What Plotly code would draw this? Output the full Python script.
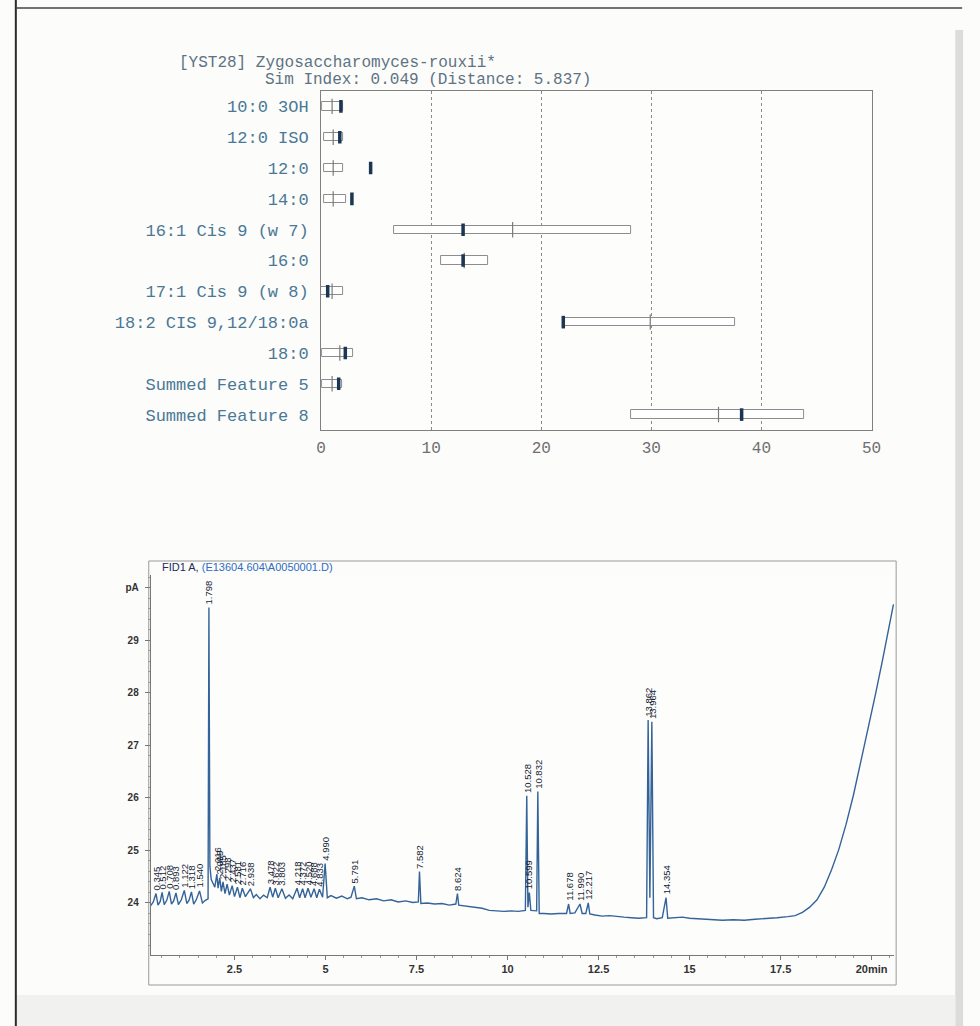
import plotly.graph_objects as go

W, H = 980, 1026

# ---------------- Top panel: FAME profile vs library entry ----------------
fame_names = ["10:0 3OH", "12:0 ISO", "12:0", "14:0", "16:1 Cis 9 (w 7)", "16:0",
              "17:1 Cis 9 (w 8)", "18:2 CIS 9,12/18:0a", "18:0",
              "Summed Feature 5", "Summed Feature 8"]
range_low = [0.1, 0.3, 0.3, 0.3, 6.6, 10.9, 0.0, 22.0, 0.1, 0.1, 28.2]
range_high = [2.0, 2.0, 2.0, 2.3, 28.2, 15.2, 2.0, 37.6, 2.9, 1.9, 43.9]
library_mean = [1.0, 1.1, 1.1, 1.1, 17.4, 13.0, 1.0, 29.9, 1.7, 1.0, 36.1]
sample_value = [1.8, 1.7, 4.5, 2.8, 12.9, 12.9, 0.6, 22.0, 2.2, 1.6, 38.2]
top_ticks = [0, 10, 20, 30, 40, 50]

# ---------------- Bottom panel: FID chromatogram ----------------
chrom_time = [
    0.20, 0.27, 0.345, 0.40, 0.46, 0.512, 0.57, 0.64, 0.708, 0.77, 0.83, 0.893,
    0.96, 1.04, 1.122, 1.19, 1.25, 1.318, 1.38, 1.45, 1.540, 1.62, 1.70, 1.775,
    1.798, 1.825, 1.86, 1.92, 1.96, 2.016, 2.05, 2.095, 2.14, 2.185, 2.24, 2.298,
    2.36, 2.437, 2.50, 2.581, 2.65, 2.716, 2.80, 2.938, 3.02, 3.10, 3.20, 3.30,
    3.40, 3.478, 3.55, 3.622, 3.70, 3.803, 3.90, 4.00, 4.10, 4.218, 4.29, 4.372,
    4.44, 4.520, 4.60, 4.688, 4.76, 4.833, 4.92, 4.990, 5.05, 5.15, 5.30, 5.45,
    5.60, 5.70, 5.791, 5.85, 6.00, 6.20, 6.40, 6.60, 6.80, 7.00, 7.20, 7.40,
    7.55, 7.582, 7.62, 7.80, 8.00, 8.20, 8.40, 8.58, 8.624, 8.66, 8.90, 9.10,
    9.30, 9.50, 9.70, 9.90, 10.10, 10.30, 10.49, 10.528, 10.56, 10.599, 10.64, 10.80,
    10.832, 10.87, 11.00, 11.20, 11.40, 11.62, 11.678, 11.72, 11.85, 11.990, 12.05, 12.15,
    12.217, 12.26, 12.40, 12.60, 12.80, 13.00, 13.20, 13.40, 13.60, 13.82, 13.862, 13.91,
    13.964, 14.01, 14.10, 14.25, 14.354, 14.40, 14.60, 14.80, 15.00, 15.30, 15.60, 15.90,
    16.20, 16.50, 16.80, 17.10, 17.40, 17.70, 17.90, 18.10, 18.30, 18.50, 18.70, 18.90,
    19.10, 19.30, 19.50, 19.70, 19.90, 20.10, 20.30, 20.50, 20.60]
chrom_signal = [
    23.95, 24.02, 24.18, 23.96, 24.03, 24.20, 23.97, 24.05, 24.22, 23.98, 24.04, 24.19,
    23.97, 24.06, 24.24, 23.99, 24.05, 24.21, 23.98, 24.06, 24.23, 24.00, 24.05, 24.08,
    29.62, 24.70, 24.45, 24.35, 24.30, 24.55, 24.28, 24.48, 24.22, 24.40, 24.18, 24.36,
    24.15, 24.33, 24.12, 24.30, 24.10, 24.28, 24.12, 24.27, 24.10, 24.16, 24.08, 24.15,
    24.10, 24.30, 24.11, 24.28, 24.10, 24.27, 24.09, 24.15, 24.08, 24.28, 24.10, 24.27,
    24.10, 24.28, 24.11, 24.27, 24.10, 24.26, 24.11, 24.75, 24.10, 24.14, 24.09, 24.13,
    24.08, 24.11, 24.32, 24.08, 24.10, 24.06, 24.08, 24.04, 24.06, 24.02, 24.04, 24.01,
    24.02, 24.60, 23.99, 24.00, 23.98, 23.99, 23.96, 23.98, 24.18, 23.96, 23.94, 23.93,
    23.90, 23.86, 23.85, 23.84, 23.85, 23.84, 23.86, 26.04, 23.92, 24.20, 23.86, 23.85,
    26.12, 23.80, 23.80, 23.79, 23.80, 23.80, 23.98, 23.80, 23.81, 23.98, 23.80, 23.80,
    24.00, 23.79, 23.77, 23.75, 23.76, 23.74, 23.73, 23.72, 23.71, 23.72, 27.48, 24.10,
    27.45, 23.72, 23.70, 23.72, 24.10, 23.71, 23.72, 23.73, 23.71, 23.70, 23.69, 23.67,
    23.68, 23.67, 23.69, 23.70, 23.72, 23.74, 23.76, 23.82, 23.92, 24.06, 24.30, 24.63,
    25.02, 25.50, 26.05, 26.68, 27.30, 27.95, 28.62, 29.30, 29.68]
peak_labels = ["0.345", "0.512", "0.708", "0.893", "1.122", "1.318", "1.540", "1.798",
               "2.016", "2.095", "2.185", "2.298", "2.437", "2.581", "2.716", "2.938",
               "3.478", "3.622", "3.803", "4.218", "4.372", "4.520", "4.688", "4.833",
               "4.990", "5.791", "7.582", "8.624", "10.528", "10.599", "10.832",
               "11.678", "11.990", "12.217", "13.862", "13.964", "14.354"]
chrom_xticks = [2.5, 5, 7.5, 10, 12.5, 15, 17.5, 20]
chrom_xticktext = ["2.5", "5", "7.5", "10", "12.5", "15", "17.5", "20min"]
chrom_yticks = [24, 25, 26, 27, 28, 29, 30]
chrom_yticktext = ["24", "25", "26", "27", "28", "29", "pA"]

MONO = "Liberation Mono"
SANS = "Liberation Sans"
LABEL_BLUE = "#4a7896"

fig = go.Figure()

# range boxes
fig.add_trace(go.Bar(
    y=fame_names, x=[h - l for l, h in zip(range_low, range_high)], base=range_low,
    orientation="h", width=0.27,
    marker=dict(color="white", line=dict(color="#8d8d8d", width=1)),
    xaxis="x", yaxis="y", hoverinfo="skip"))
# library mean ticks
fig.add_trace(go.Scatter(
    x=library_mean, y=fame_names, mode="markers",
    marker=dict(symbol="line-ns", size=11, line=dict(width=1.2, color="#7a7a7a")),
    xaxis="x", yaxis="y"))
# sample values
fig.add_trace(go.Scatter(
    x=sample_value, y=fame_names, mode="markers",
    marker=dict(symbol="line-ns", size=9, line=dict(width=3.5, color="#1b3552")),
    xaxis="x", yaxis="y"))

# chromatogram
fig.add_trace(go.Scatter(
    x=chrom_time, y=chrom_signal, mode="lines",
    line=dict(color="#34639a", width=1.4),
    xaxis="x2", yaxis="y2"))

annotations = [
    dict(text="[YST28] Zygosaccharomyces-rouxii*", x=175 / W, y=1 - 63 / H,
         xref="paper", yref="paper", xanchor="left", yanchor="middle", showarrow=False,
         font=dict(family=MONO, size=16, color="#5d7384")),
    dict(text="Sim Index: 0.049 (Distance: 5.837)", x=262 / W, y=1 - 80 / H,
         xref="paper", yref="paper", xanchor="left", yanchor="middle", showarrow=False,
         font=dict(family=MONO, size=16, color="#5d7384")),
    dict(text="<span style='color:#1d2d5c'>FID1 A,</span> "
              "<span style='color:#2c6cc4'>(E13604.604\\A0050001.D)</span>",
         x=157 / W, y=1 - 567 / H, xref="paper", yref="paper",
         xanchor="left", yanchor="middle", showarrow=False,
         font=dict(family=SANS, size=11)),
]

for lab in peak_labels:
    t = float(lab)
    i = min(range(len(chrom_time)), key=lambda k: abs(chrom_time[k] - t))
    annotations.append(dict(
        text=lab, x=chrom_time[i], y=chrom_signal[i], xref="x2", yref="y2",
        textangle=-90, xanchor="center", yanchor="bottom", yshift=1, showarrow=False,
        font=dict(family=SANS, size=9.5, color="#141d38")))

shapes = [
    # chromatogram frame
    dict(type="rect", xref="paper", yref="paper", x0=146 / W, x1=905 / W,
         y0=1 - 985 / H, y1=1 - 561 / H, line=dict(color="#9a9a9a", width=1),
         layer="below"),
    # photographed page edges
    dict(type="line", xref="paper", yref="paper", x0=11 / W, x1=11 / W, y0=0, y1=1,
         line=dict(color="#2b2b2b", width=2)),
    dict(type="line", xref="paper", yref="paper", x0=11 / W, x1=972 / W,
         y0=1 - 8 / H, y1=1 - 8 / H, line=dict(color="#444444", width=1.5)),
    dict(type="rect", xref="paper", yref="paper", x0=965 / W, x1=973 / W,
         y0=0, y1=1 - 30 / H, fillcolor="#dcdcdc", line=dict(width=0), layer="below"),
    dict(type="rect", xref="paper", yref="paper", x0=12 / W, x1=965 / W,
         y0=0, y1=1 - 995 / H, fillcolor="#f1f1ef", line=dict(width=0), layer="below"),
]

fig.update_layout(
    width=W, height=H, margin=dict(l=0, r=0, t=0, b=0),
    paper_bgcolor="#fcfcfa", plot_bgcolor="#fdfdfb",
    showlegend=False, bargap=0,
    xaxis=dict(domain=[321 / W, 880 / W], range=[0, 50], tickvals=top_ticks,
               showgrid=True, gridcolor="#8a8a8a", griddash="dot", gridwidth=1,
               showline=True, linecolor="#808080", linewidth=1, mirror=True,
               zeroline=False, ticks="", ticklabelstandoff=3,
               tickfont=dict(family=MONO, size=16, color="#6e6e6e"), anchor="y"),
    yaxis=dict(domain=[1 - 430 / H, 1 - 91 / H], type="category",
               categoryorder="array", categoryarray=fame_names,
               range=[10.5, -0.5], showline=True, linecolor="#808080",
               linewidth=1, mirror=True, showgrid=False, ticks="",
               ticklabelstandoff=8,
               tickfont=dict(family=MONO, size=17, color=LABEL_BLUE), anchor="x"),
    xaxis2=dict(domain=[148 / W, 903 / W], range=[0.2, 20.62],
                tickvals=chrom_xticks, ticktext=chrom_xticktext,
                ticks="outside", ticklen=4, tickcolor="#777777",
                minor=dict(ticks="outside", ticklen=2, dtick=0.5, tick0=0,
                           tickcolor="#999999"),
                showline=True, linecolor="#777777", showgrid=False, zeroline=False,
                tickfont=dict(family=SANS, size=11, color="#333333", weight="bold"),
                anchor="y2"),
    yaxis2=dict(domain=[1 - 955 / H, 1 - 575 / H], range=[23.01, 30.24],
                tickvals=chrom_yticks, ticktext=chrom_yticktext,
                ticks="outside", ticklen=5, tickcolor="#777777",
                minor=dict(ticks="outside", ticklen=2, dtick=0.2, tick0=0,
                           tickcolor="#999999"),
                showline=True, linecolor="#777777", showgrid=False, zeroline=False,
                ticklabelstandoff=4,
                tickfont=dict(family=SANS, size=10, color="#333333", weight="bold"),
                anchor="x2"),
    annotations=annotations, shapes=shapes,
)

fig.write_html("out.html")
